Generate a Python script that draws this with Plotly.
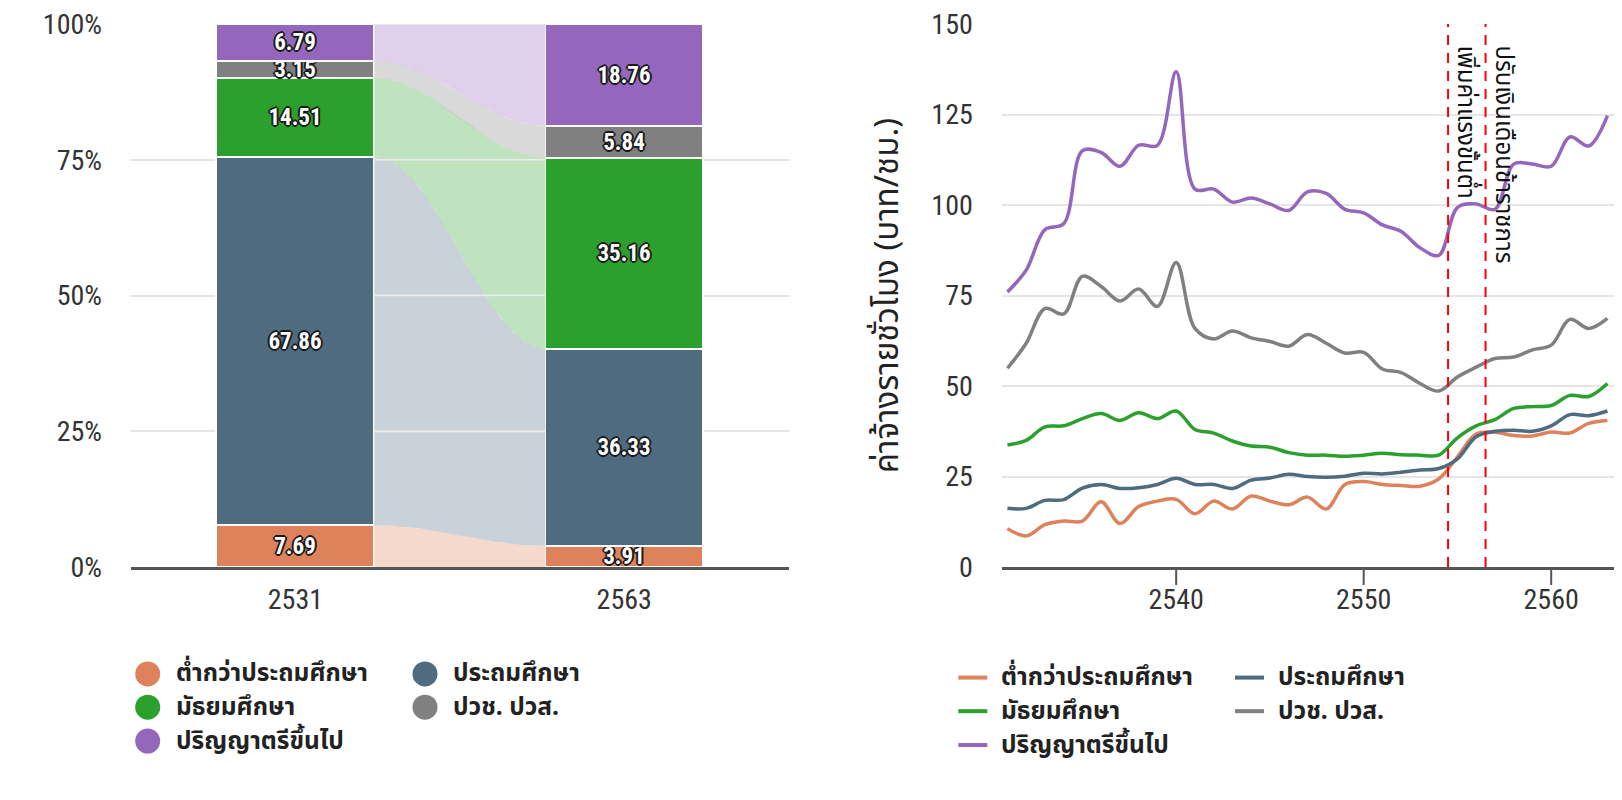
import numpy as np
import plotly.graph_objects as go

# ---------------- data ----------------
categories = ["ต่ำกว่าประถมศึกษา", "ประถมศึกษา", "มัธยมศึกษา", "ปวช. ปวส.", "ปริญญาตรีขึ้นไป"]
colors = ["#dd825a", "#4e6b80", "#2ca02c", "#808080", "#9467bd"]
flow_rgb = [(221, 130, 90), (78, 107, 128), (44, 160, 44), (128, 128, 128), (148, 103, 189)]

bar_years = ["2531", "2563"]
share_2531 = [7.69, 67.86, 14.51, 3.15, 6.79]
share_2563 = [3.91, 36.33, 35.16, 5.84, 18.76]
pct_ticks = [0, 25, 50, 75, 100]
pct_labels = ["0%", "25%", "50%", "75%", "100%"]

line_years = [2531, 2532, 2533, 2534, 2535, 2536, 2537, 2538, 2539, 2540,
              2541, 2542, 2543, 2544, 2545, 2546, 2547, 2548, 2549, 2550,
              2551, 2552, 2553, 2554, 2555, 2556, 2557, 2558, 2559, 2560,
              2561, 2562, 2563]
wage_below_primary = [10.6, 8.6, 11.7, 12.7, 12.7, 18.0, 12.0, 16.7, 18.2, 18.7,
                      14.7, 18.2, 16.0, 19.6, 18.2, 17.2, 19.3, 16.0, 22.8, 23.6,
                      22.8, 22.5, 22.3, 24.3, 30.4, 36.7, 37.2, 36.3, 36.2, 37.3,
                      37.0, 39.7, 40.5]
wage_primary = [16.2, 16.2, 18.4, 18.6, 21.8, 22.8, 21.7, 21.9, 22.8, 24.5,
                22.8, 22.8, 21.7, 24.0, 24.6, 25.6, 25.0, 24.8, 25.1, 25.9,
                25.7, 26.2, 26.8, 27.2, 29.9, 36.0, 37.5, 37.8, 37.5, 39.0,
                42.1, 41.8, 43.1]
wage_secondary = [33.7, 35.0, 38.7, 39.0, 41.0, 42.4, 40.5, 42.6, 41.0, 43.1,
                  38.0, 37.0, 34.8, 33.4, 33.1, 31.6, 30.9, 30.9, 30.6, 30.9,
                  31.4, 31.0, 30.9, 30.9, 35.7, 39.0, 40.7, 43.8, 44.3, 44.6,
                  47.4, 47.1, 50.7]
wage_vocational = [54.9, 61.8, 71.4, 69.9, 80.3, 77.5, 73.5, 76.8, 72.0, 84.1,
                   65.9, 63.0, 65.2, 63.3, 62.3, 61.0, 64.2, 61.8, 59.1, 59.3,
                   54.7, 53.7, 50.7, 48.6, 52.5, 55.2, 57.6, 58.0, 60.0, 61.3,
                   68.4, 65.9, 68.7]
wage_bachelor = [76.0, 82.0, 93.2, 94.8, 115.0, 114.5, 110.7, 116.5, 116.5, 136.8,
                 104.4, 104.4, 100.8, 101.9, 100.3, 98.5, 103.6, 103.2, 98.8, 97.8,
                 94.5, 92.7, 88.2, 86.1, 99.3, 100.3, 98.8, 111.3, 111.3, 110.7,
                 118.8, 116.3, 124.7]
wage_series = [wage_below_primary, wage_primary, wage_secondary, wage_vocational, wage_bachelor]
wage_ticks = [0, 25, 50, 75, 100, 125, 150]
year_ticks = [2540, 2550, 2560]

policy_years = [2554.5, 2556.5]
policy_labels = ["เพิ่มค่าแรงขั้นต่ำ", "ปรับเงินเดือนข้าราชการ"]
y_title = "ค่าจ้างรายชั่วโมง (บาท/ชม.)"

# ---------------- layout geometry (page pixel positions) ----------------
OFF = 8                      # default page margin around the plot div
W, H = 1606, 784
ML, MR, MT, MB = 123, 0, 14, 225
PW = W - ML - MR
PH = H - MT - MB


def px_x(p):
    return (p - OFF - ML) / PW


def px_y(p):
    return (H - MB - (p - OFF)) / PH


NUM_FONT = "Liberation Sans Narrow, Roboto Condensed, DejaVu Sans Condensed, Roboto, sans-serif"
THAI_FONT = "Noto Sans Thai, Noto Sans Thai UI, Noto Sans, Roboto, sans-serif"

BAR_W = 0.48
fig = go.Figure()

# ---------------- flows between bars ----------------
cum_l = np.concatenate([[0], np.cumsum(share_2531)])
cum_r = np.concatenate([[0], np.cumsum(share_2563)])
t = np.linspace(0, 1, 80)
s = (1 - np.cos(np.pi * t)) / 2
fx = BAR_W / 2 + (1 - BAR_W) * t
for i in range(len(categories)):
    lo = cum_l[i] + (cum_r[i] - cum_l[i]) * s
    hi = cum_l[i + 1] + (cum_r[i + 1] - cum_l[i + 1]) * s
    r, g, b = flow_rgb[i]
    fig.add_trace(go.Scatter(
        x=np.concatenate([fx, fx[::-1]]), y=np.concatenate([hi, lo[::-1]]),
        mode="lines", fill="toself", fillcolor=f"rgba({r},{g},{b},0.3)",
        line=dict(width=0), hoverinfo="skip", showlegend=False,
        xaxis="x", yaxis="y"))

# ---------------- stacked bars ----------------
outline = ("2px 0 0 #1a1a1a, -2px 0 0 #1a1a1a, 0 2px 0 #1a1a1a, 0 -2px 0 #1a1a1a, "
           "1px 1px 0 #1a1a1a, -1px -1px 0 #1a1a1a, 1px -1px 0 #1a1a1a, -1px 1px 0 #1a1a1a")
for i, cat in enumerate(categories):
    vals = [share_2531[i], share_2563[i]]
    fig.add_trace(go.Bar(
        x=[0, 1], y=vals, name=cat, width=BAR_W,
        marker=dict(color=colors[i], line=dict(color="white", width=2)),
        text=[f"{v:.2f}" for v in vals], textposition="inside",
        insidetextanchor="middle", constraintext="none",
        textfont=dict(family=NUM_FONT, size=23, color="white", weight="bold", shadow=outline),
        showlegend=False, xaxis="x", yaxis="y"))

# ---------------- wage lines ----------------
for i, cat in enumerate(categories):
    fig.add_trace(go.Scatter(
        x=line_years, y=wage_series[i], name=cat, mode="lines",
        line=dict(color=colors[i], width=3.5, shape="spline", smoothing=1),
        showlegend=False, xaxis="x2", yaxis="y2"))

shapes = []
annotations = []

# gridlines over the flow region
for v in pct_ticks[1:]:
    shapes.append(dict(type="line", xref="x", yref="y", x0=BAR_W / 2, x1=1 - BAR_W / 2,
                       y0=v, y1=v, line=dict(color="#ebebeb", width=2), layer="above"))

# tick marks of the wage x-axis
for yr in year_ticks:
    shapes.append(dict(type="line", xref="x2", yref="y2 domain", ysizemode="pixel",
                       yanchor=0, x0=yr, x1=yr, y0=0, y1=-18,
                       line=dict(color="#555", width=2)))

# policy lines
for yr, lab in zip(policy_years, policy_labels):
    shapes.append(dict(type="line", xref="x2", yref="y2", x0=yr, x1=yr,
                       y0=wage_ticks[0], y1=wage_ticks[-1],
                       line=dict(color="#ff0000", width=2, dash="10px,8px"), layer="above"))
    annotations.append(dict(x=yr, y=1, xref="x2", yref="paper", text=lab, showarrow=False,
                            textangle=90, xanchor="left", yanchor="top", xshift=-3, yshift=-19,
                            font=dict(family=THAI_FONT, size=24, color="#111")))

# ---------------- manual legends ----------------
left_cols = [147.7, 425.0]
left_rows = [674.3, 707.7, 741.7]
right_cols = [958.3, 1235.0]
right_rows = [678.0, 711.7, 745.7]
LEG_SIZE = 24.5
for i, cat in enumerate(categories):
    c, r_ = i % 2, i // 2
    cy = px_y(left_rows[r_])
    shapes.append(dict(type="circle", xref="paper", yref="paper", xsizemode="pixel",
                       ysizemode="pixel", xanchor=px_x(left_cols[c]), yanchor=cy,
                       x0=-12.5, x1=12.5, y0=-12.5, y1=12.5,
                       fillcolor=colors[i], line=dict(width=0)))
    annotations.append(dict(x=px_x(left_cols[c] + 26), y=cy, xref="paper", yref="paper",
                            text=cat, showarrow=False, xanchor="left", yanchor="middle",
                            font=dict(family=THAI_FONT, size=LEG_SIZE, color="#222",
                                      weight="bold")))
    ly = px_y(right_rows[r_])
    shapes.append(dict(type="line", xref="paper", yref="paper",
                       x0=px_x(right_cols[c]), x1=px_x(right_cols[c] + 29),
                       y0=ly, y1=ly, line=dict(color=colors[i], width=4)))
    annotations.append(dict(x=px_x(right_cols[c] + 41), y=ly, xref="paper", yref="paper",
                            text=cat, showarrow=False, xanchor="left", yanchor="middle",
                            font=dict(family=THAI_FONT, size=LEG_SIZE, color="#222",
                                      weight="bold")))

tickfont = dict(family=NUM_FONT, size=28, color="#333")
fig.update_layout(
    width=W, height=H, margin=dict(l=ML, r=MR, t=MT, b=MB),
    paper_bgcolor="white", plot_bgcolor="white",
    barmode="stack", bargap=0, showlegend=False,
    xaxis=dict(domain=[0, px_x(788.6)], range=[-0.5, 1.5], tickvals=[0, 1], ticktext=bar_years,
               showline=True, linecolor="#555", linewidth=3, ticks="outside", ticklen=5,
               tickcolor="rgba(0,0,0,0)", showgrid=False, zeroline=False, tickfont=tickfont,
               ticklabeloverflow="allow", fixedrange=True),
    yaxis=dict(domain=[0, 1], range=[0, 100], tickvals=pct_ticks, ticktext=pct_labels,
               showgrid=True, gridcolor="#e5e5e5", gridwidth=2, zeroline=False,
               ticks="", ticklabelstandoff=28, tickfont=tickfont, anchor="x",
               ticklabeloverflow="allow"),
    xaxis2=dict(domain=[px_x(1001.8), 1], range=[2530.7, 2563.35], tickvals=year_ticks,
                showline=True, linecolor="#555", linewidth=3, ticks="outside", ticklen=5,
                tickcolor="rgba(0,0,0,0)", showgrid=False, zeroline=False,
                tickfont=tickfont, anchor="y2", ticklabeloverflow="allow"),
    yaxis2=dict(domain=[0, 1], range=[0, 150], tickvals=wage_ticks, showgrid=True,
                gridcolor="#e5e5e5", gridwidth=2, zeroline=False, ticks="",
                ticklabelstandoff=28, tickfont=tickfont, anchor="x2",
                ticklabeloverflow="allow",
                title=dict(text=y_title, font=dict(family=THAI_FONT, size=33, color="#222"),
                           standoff=22)),
    shapes=shapes, annotations=annotations,
)

fig.write_html("out.html")
